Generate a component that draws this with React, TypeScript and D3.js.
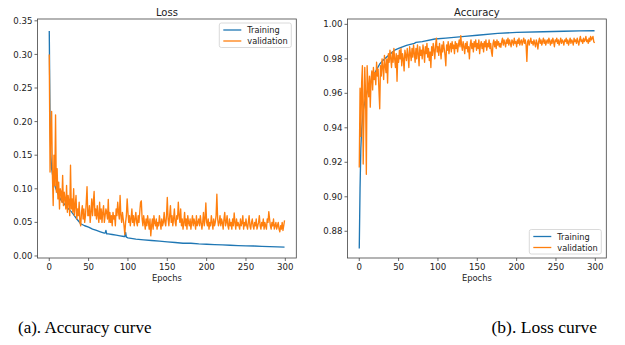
import React from "react";
import * as d3 from "d3";

// ---------- DATA ----------
const lossTrainEpochs = [0, 1, 2, 3, 5, 7, 10, 15, 18, 22, 28, 30, 35, 40, 45, 50, 55, 60, 65, 70, 71, 72, 73, 75, 80, 85, 90, 95, 96, 97, 98, 100, 110, 120, 130, 140, 150, 160, 170, 180, 190, 200, 210, 220, 230, 240, 250, 260, 270, 280, 290, 299];
const lossTrainValues = [0.335, 0.2, 0.15, 0.13, 0.115, 0.105, 0.095, 0.083, 0.079, 0.073, 0.066, 0.063, 0.055, 0.048, 0.045, 0.043, 0.04, 0.038, 0.036, 0.034, 0.034, 0.038, 0.033, 0.033, 0.032, 0.031, 0.03, 0.029, 0.029, 0.035, 0.028, 0.027, 0.025, 0.024, 0.023, 0.022, 0.021, 0.02, 0.019, 0.019, 0.018, 0.0175, 0.017, 0.0165, 0.016, 0.0155, 0.015, 0.0148, 0.0143, 0.014, 0.0135, 0.0132];

const lossVal = [
  0.300, 0.125, 0.180, 0.215, 0.120, 0.075, 0.150, 0.105, 0.210, 0.095,
  0.130, 0.085, 0.110, 0.070, 0.100, 0.095, 0.080, 0.120, 0.075, 0.095,
  0.085, 0.070, 0.105, 0.065, 0.090, 0.080, 0.060, 0.135, 0.070, 0.085,
  0.065, 0.100, 0.060, 0.075, 0.090, 0.055, 0.070, 0.060, 0.080, 0.050,
  0.045, 0.065, 0.075, 0.055, 0.070, 0.050, 0.060, 0.080, 0.103, 0.060,
  0.060, 0.075, 0.050, 0.065, 0.085, 0.060, 0.080, 0.096, 0.060, 0.070,
  0.055, 0.075, 0.060, 0.050, 0.080, 0.055, 0.070, 0.050, 0.065, 0.075,
  0.050, 0.060, 0.070, 0.065, 0.055, 0.084, 0.050, 0.065, 0.050, 0.060,
  0.045, 0.065, 0.055, 0.060, 0.045, 0.070, 0.060, 0.080, 0.065, 0.055,
  0.090, 0.060, 0.050, 0.065, 0.055, 0.045, 0.032, 0.050, 0.060, 0.085,
  0.065, 0.050, 0.060, 0.045, 0.055, 0.070, 0.050, 0.060, 0.045, 0.055,
  0.065, 0.050, 0.045, 0.060, 0.050, 0.065, 0.080, 0.082, 0.055, 0.045,
  0.060, 0.050, 0.040, 0.055, 0.045, 0.060, 0.050, 0.040, 0.055, 0.030,
  0.045, 0.055, 0.040, 0.060, 0.050, 0.045, 0.055, 0.040, 0.050, 0.045,
  0.060, 0.050, 0.040, 0.055, 0.045, 0.050, 0.065, 0.050, 0.045, 0.060,
  0.087, 0.055, 0.045, 0.060, 0.075, 0.050, 0.060, 0.045, 0.055, 0.070,
  0.050, 0.045, 0.060, 0.055, 0.080, 0.060, 0.050, 0.070, 0.045, 0.055,
  0.040, 0.050, 0.065, 0.045, 0.055, 0.040, 0.060, 0.050, 0.045, 0.055,
  0.040, 0.050, 0.060, 0.045, 0.055, 0.050, 0.040, 0.060, 0.045, 0.050,
  0.055, 0.045, 0.060, 0.050, 0.040, 0.050, 0.065, 0.045, 0.055, 0.079,
  0.050, 0.045, 0.055, 0.040, 0.050, 0.045, 0.060, 0.050, 0.040, 0.055,
  0.045, 0.050, 0.060, 0.092, 0.055, 0.045, 0.050, 0.060, 0.045, 0.055,
  0.050, 0.040, 0.055, 0.065, 0.045, 0.050, 0.060, 0.045, 0.040, 0.055,
  0.045, 0.050, 0.040, 0.055, 0.045, 0.064, 0.050, 0.040, 0.055, 0.045,
  0.050, 0.045, 0.040, 0.055, 0.045, 0.050, 0.060, 0.040, 0.050, 0.045,
  0.055, 0.045, 0.040, 0.050, 0.060, 0.045, 0.040, 0.050, 0.055, 0.045,
  0.040, 0.050, 0.045, 0.055, 0.040, 0.045, 0.050, 0.060, 0.045, 0.040,
  0.050, 0.045, 0.055, 0.040, 0.050, 0.045, 0.040, 0.055, 0.050, 0.066,
  0.055, 0.045, 0.040, 0.050, 0.045, 0.055, 0.040, 0.045, 0.050, 0.040,
  0.045, 0.050, 0.040, 0.036, 0.045, 0.040, 0.050, 0.038, 0.045, 0.053,
];

const accTrainEpochs = [0, 1, 2, 3, 5, 7, 10, 14, 20, 26, 30, 37, 45, 50, 55, 60, 70, 72, 80, 96, 110, 134, 150, 176, 200, 234, 260, 280, 299];
const accTrainValues = [0.870, 0.905, 0.928, 0.939, 0.950, 0.955, 0.961, 0.966, 0.972, 0.977, 0.979, 0.982, 0.985, 0.986, 0.987, 0.9878, 0.989, 0.9895, 0.990, 0.9915, 0.992, 0.993, 0.9937, 0.9948, 0.9953, 0.9957, 0.996, 0.9962, 0.9963];

const accVal = [
  0.917, 0.963, 0.935, 0.966, 0.976, 0.919, 0.950, 0.975, 0.960, 0.913,
  0.976, 0.965, 0.958, 0.970, 0.952, 0.968, 0.973, 0.962, 0.975, 0.968,
  0.972, 0.965, 0.978, 0.970, 0.974, 0.962, 0.951, 0.976, 0.970, 0.980,
  0.975, 0.968, 0.982, 0.976, 0.972, 0.980, 0.966, 0.983, 0.978, 0.985,
  0.980, 0.975, 0.984, 0.978, 0.986, 0.980, 0.975, 0.983, 0.967, 0.982,
  0.978, 0.985, 0.980, 0.986, 0.976, 0.983, 0.980, 0.973, 0.985, 0.982,
  0.979, 0.986, 0.982, 0.975, 0.987, 0.983, 0.979, 0.986, 0.981, 0.988,
  0.983, 0.978, 0.986, 0.980, 0.988, 0.983, 0.976, 0.987, 0.982, 0.985,
  0.980, 0.988, 0.984, 0.978, 0.987, 0.983, 0.989, 0.981, 0.986, 0.979,
  0.984, 0.975, 0.987, 0.982, 0.989, 0.985, 0.980, 0.988, 0.992, 0.984,
  0.987, 0.982, 0.989, 0.985, 0.980, 0.988, 0.984, 0.990, 0.986, 0.982,
  0.976, 0.988, 0.985, 0.990, 0.983, 0.987, 0.989, 0.984, 0.990, 0.986,
  0.988, 0.983, 0.990, 0.986, 0.989, 0.984, 0.988, 0.991, 0.987, 0.9935,
  0.988, 0.985, 0.990, 0.987, 0.983, 0.989, 0.986, 0.990, 0.984, 0.987,
  0.980, 0.988, 0.991, 0.986, 0.989, 0.984, 0.990, 0.987, 0.991, 0.985,
  0.989, 0.986, 0.991, 0.983, 0.988, 0.990, 0.986, 0.989, 0.984, 0.990,
  0.987, 0.991, 0.985, 0.989, 0.987, 0.991, 0.986, 0.989, 0.984, 0.9815,
  0.989, 0.991, 0.987, 0.990, 0.986, 0.991, 0.988, 0.990, 0.987, 0.989,
  0.9867, 0.990, 0.992, 0.988, 0.991, 0.989, 0.987, 0.991, 0.989, 0.992,
  0.988, 0.991, 0.989, 0.987, 0.991, 0.990, 0.988, 0.992, 0.989, 0.990,
  0.987, 0.991, 0.989, 0.992, 0.988, 0.990, 0.991, 0.988, 0.990, 0.992,
  0.989, 0.991, 0.988, 0.9785, 0.990, 0.991, 0.988, 0.990, 0.992, 0.989,
  0.990, 0.988, 0.991, 0.989, 0.987, 0.991, 0.989, 0.9857, 0.990, 0.992,
  0.989, 0.991, 0.988, 0.990, 0.992, 0.989, 0.991, 0.988, 0.990, 0.991,
  0.989, 0.992, 0.990, 0.988, 0.991, 0.989, 0.992, 0.990, 0.987, 0.991,
  0.990, 0.992, 0.989, 0.991, 0.988, 0.990, 0.992, 0.989, 0.991, 0.990,
  0.988, 0.991, 0.990, 0.992, 0.989, 0.991, 0.988, 0.990, 0.992, 0.989,
  0.991, 0.990, 0.988, 0.992, 0.990, 0.991, 0.989, 0.992, 0.990, 0.988,
  0.991, 0.993, 0.990, 0.991, 0.989, 0.992, 0.990, 0.991, 0.993, 0.990,
  0.991, 0.989, 0.992, 0.990, 0.993, 0.991, 0.992, 0.993, 0.990, 0.9892,
];

const epochTicks = [0, 50, 100, 150, 200, 250, 300];
const lossTicks = [0.0, 0.05, 0.1, 0.15, 0.2, 0.25, 0.3, 0.35];
const accTicks = [0.88, 0.9, 0.92, 0.94, 0.96, 0.98, 1.0];
const seriesNames = ["Training", "validation"];
const captions = ["(a). Accuracy curve", "(b). Loss curve"];

const BLUE = "#1f77b4";
const ORANGE = "#ff7f0e";
const FONT = "DejaVu Sans, sans-serif";
const SERIF = "Liberation Serif, Times New Roman, serif";

type Pt = [number, number];

function Panel(props: {
  left: number; right: number; top: number; bottom: number;
  yDomain: [number, number]; yTicks: number[]; yFmt: (v: number) => string;
  title: string; train: Pt[]; val: Pt[]; legendPos: "tr" | "br";
}) {
  const { left, right, top, bottom, yDomain, yTicks, yFmt, title, train, val, legendPos } = props;
  const x = d3.scaleLinear().domain([-14.95, 313.95]).range([left, right]);
  const y = d3.scaleLinear().domain(yDomain).range([bottom, top]);
  const line = d3.line<Pt>().x((d) => x(d[0])).y((d) => y(d[1]));
  const lw = 72, lh = 24.5;
  const lx = right - 5 - lw;
  const ly = legendPos === "tr" ? top + 4 : bottom - 4 - lh;
  return (
    <g>
      <defs>
        <clipPath id={"clip-" + title}>
          <rect x={left} y={top} width={right - left} height={bottom - top} />
        </clipPath>
      </defs>
      <g clipPath={`url(#clip-${title})`}>
        <path d={line(train) || ""} fill="none" stroke={BLUE} strokeWidth={1.35} strokeLinejoin="round" />
        <path d={line(val) || ""} fill="none" stroke={ORANGE} strokeWidth={1.35} strokeLinejoin="round" />
      </g>
      <rect x={left} y={top} width={right - left} height={bottom - top} fill="none" stroke="#444" strokeWidth={0.8} />
      {epochTicks.map((t) => (
        <g key={"x" + t}>
          <line x1={x(t)} x2={x(t)} y1={bottom} y2={bottom + 3} stroke="#444" strokeWidth={0.8} />
          <text x={x(t)} y={bottom + 12} textAnchor="middle" fontSize={8.6} fontFamily={FONT} fill="#222">{t}</text>
        </g>
      ))}
      {yTicks.map((t) => (
        <g key={"y" + t}>
          <line x1={left - 3} x2={left} y1={y(t)} y2={y(t)} stroke="#444" strokeWidth={0.8} />
          <text x={left - 5} y={y(t) + 3.1} textAnchor="end" fontSize={8.6} fontFamily={FONT} fill="#222">{yFmt(t)}</text>
        </g>
      ))}
      <text x={(left + right) / 2} y={bottom + 23} textAnchor="middle" fontSize={8.4} fontFamily={FONT} fill="#222">Epochs</text>
      <text x={(left + right) / 2} y={top - 3} textAnchor="middle" fontSize={10} fontFamily={FONT} fill="#222">{title}</text>
      <g>
        <rect x={lx} y={ly} width={lw} height={lh} rx={2} fill="#fff" fillOpacity={0.85} stroke="#d0d0d0" strokeWidth={0.8} />
        {seriesNames.map((n, i) => (
          <g key={n}>
            <line x1={lx + 4} x2={lx + 22} y1={ly + 7 + i * 11} y2={ly + 7 + i * 11} stroke={i === 0 ? BLUE : ORANGE} strokeWidth={1.3} />
            <text x={lx + 28} y={ly + 10 + i * 11} fontSize={8.2} fontFamily={FONT} fill="#222">{n}</text>
          </g>
        ))}
      </g>
    </g>
  );
}

export default function App() {
  const lossTrain: Pt[] = lossTrainEpochs.map((e, i) => [e, lossTrainValues[i]]);
  const lossValPts: Pt[] = lossVal.map((v, i) => [i, v]);
  const accTrain: Pt[] = accTrainEpochs.map((e, i) => [e, accTrainValues[i]]);
  const accValPts: Pt[] = accVal.map((v, i) => [i, v]);
  return (
    <svg width={625} height={345} style={{ position: "absolute", left: 0, top: 0, background: "#fff" }}>
      <rect x={0} y={0} width={625} height={345} fill="#fff" />
      <Panel left={37.5} right={296.3} top={19} bottom={258} yDomain={[-0.003, 0.3527]} yTicks={lossTicks}
        yFmt={(v) => v.toFixed(2)} title="Loss" train={lossTrain} val={lossValPts} legendPos="tr" />
      <Panel left={347.5} right={606.3} top={19} bottom={258} yDomain={[0.8645, 1.0031]} yTicks={accTicks}
        yFmt={(v) => v.toFixed(2)} title="Accuracy" train={accTrain} val={accValPts} legendPos="br" />
      <text x={18} y={333} fontSize={17} fontFamily={SERIF} fill="#000">{captions[0]}</text>
      <text x={597} y={333} fontSize={17.5} fontFamily={SERIF} fill="#000" textAnchor="end">{captions[1]}</text>
    </svg>
  );
}
